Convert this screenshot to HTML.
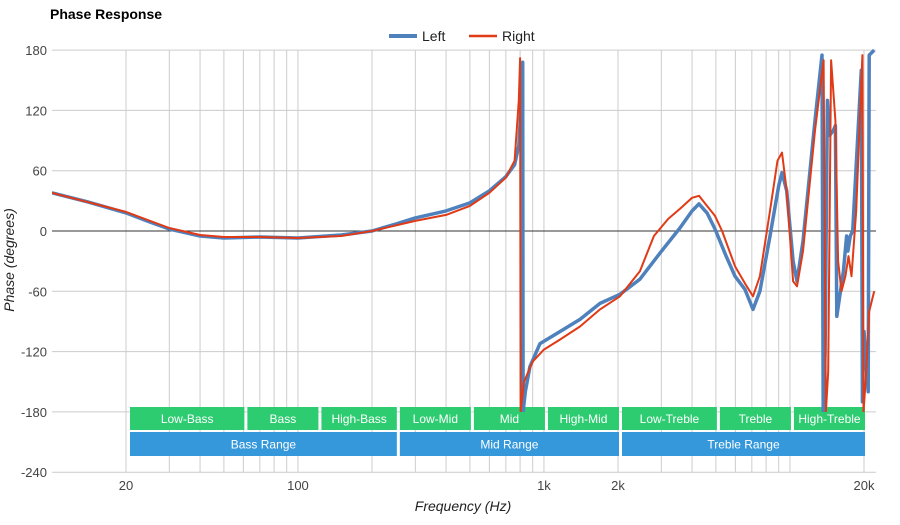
<!DOCTYPE html>
<html><head><meta charset="utf-8"><style>
body{margin:0;background:#fff;font-family:"Liberation Sans",sans-serif;}
svg text{font-family:"Liberation Sans",sans-serif;}
</style></head><body>
<svg id="chart" width="900" height="520">
<text x="50" y="19" font-size="14" font-weight="bold" fill="#000">Phase Response</text>
<g>
<g><line x1="389" y1="36" x2="417" y2="36" stroke="#4f81bd" stroke-width="4"/><text x="422" y="41" font-size="14" fill="#222">Left</text></g>
<g><line x1="469" y1="36" x2="497" y2="36" stroke="#e03a16" stroke-width="2.5"/><text x="502" y="41" font-size="14" fill="#222">Right</text></g>
</g>
<g id="grid"></g>
<g id="bands"></g>
<defs><clipPath id="pc"><rect x="52" y="44" width="826" height="368"/></clipPath></defs>
<g id="series" clip-path="url(#pc)"></g>
<text x="0" y="0" transform="translate(14,260) rotate(-90)" font-size="14" font-style="italic" text-anchor="middle" fill="#222">Phase (degrees)</text>
<text x="463" y="511" font-size="14" font-style="italic" text-anchor="middle" fill="#222">Frequency (Hz)</text>
</svg>
<script>
const yTicks=[180,120,60,0,-60,-120,-180,-240];
const xLabels=[20,100,1000,2000,20000];
const xLabelText=["20","100","1k","2k","20k"];
const leftFreq=[10,14,20,25,30,40,50,70,100,150,200,250,300,400,500,600,700,760,790,810,820,823,840,877,964,1163,1402,1690,2037,2456,2962,3571,4000,4268,4600,4958,5500,5978,6560,7076,7551,8300,9000,9280,9700,10300,10680,11300,12640,13500,13650,13900,14200,14500,15000,15300,15500,16500,17000,17200,17600,18000,19500,19700,20000,20800,21000,22000];
const leftPhase=[38,29,18,9,2,-5,-7,-6,-7,-4,0,7,13,20,28,40,54,66,85,130,168,-180,-160,-135,-112,-100,-88,-72,-63,-48,-22,3,20,27,18,2,-25,-45,-58,-78,-60,-5,45,58,40,-30,-50,-10,110,175,-180,-120,130,95,100,105,-85,-40,-5,-20,-5,0,160,-170,-100,-160,175,180];
const rightFreq=[10,20,30,40,50,70,100,150,200,300,400,500,600,700,760,790,800,804,830,900,1000,1163,1402,1690,2037,2456,2800,3200,3571,4000,4268,4600,4958,5300,5978,6560,7076,7551,8300,8900,9280,9700,10300,10680,11300,12640,13700,14000,14300,14700,15300,15700,16200,16800,17300,17800,18600,19700,19900,20300,21000,22000];
const rightPhase=[38,19,3,-4,-6,-6,-7,-5,0,10,16,25,38,53,70,130,172,-180,-150,-130,-118,-108,-95,-78,-65,-40,-5,12,22,33,35,25,15,0,-35,-52,-65,-45,20,70,78,40,-50,-55,-20,100,170,-180,-140,170,110,-30,-60,-45,-25,-45,20,175,-180,-150,-80,-60];
const bands1=[["Low-Bass",20,60],["Bass",60,120],["High-Bass",120,250],["Low-Mid",250,500],["Mid",500,1000],["High-Mid",1000,2000],["Low-Treble",2000,5000],["Treble",5000,10000],["High-Treble",10000,20000]];
const bands2=[["Bass Range",20,250],["Mid Range",250,2000],["Treble Range",2000,20000]];
const NS="http://www.w3.org/2000/svg";
const X=f=>126+(Math.log10(f)-Math.log10(20))*246;
const Y=d=>231-d*1.005;
function mk(tag,attrs,parent){const e=document.createElementNS(NS,tag);for(const k in attrs)e.setAttribute(k,attrs[k]);parent.appendChild(e);return e;}
const grid=document.getElementById('grid');
for(let dec=10;dec<=10000;dec*=10){for(let m=1;m<=9;m++){const f=dec*m;if(f<20||f>22000)continue;const l=mk('line',{x1:X(f),x2:X(f),y1:50,y2:472,stroke:'#ccc','stroke-width':1},grid);

}}
const l2=mk('line',{x1:X(20000),x2:X(20000),y1:50,y2:472,stroke:'#ccc'},grid);


yTicks.forEach(t=>{const l=mk('line',{x1:52,x2:876,y1:Y(t),y2:Y(t),stroke:t===0?'#333':'#ccc','stroke-width':1},grid);


const tx=mk('text',{x:47,y:Y(t)+5,'font-size':13,'text-anchor':'end',fill:'#444'},grid);tx.textContent=t;

});
xLabels.forEach((f,i)=>{const tx=mk('text',{x:X(f),y:490,'font-size':13,'text-anchor':'middle',fill:'#444'},grid);tx.textContent=xLabelText[i];

});
const bands=document.getElementById('bands');
function band(list,y,h,color,name){list.forEach(b=>{const g=mk('g',{},bands);


const x1=X(b[1])+4,x2=X(b[2])+1;mk('rect',{x:x1,y:y,width:x2-x1,height:h,fill:color},g);
const t=mk('text',{x:(x1+x2)/2,y:y+h/2+4.5,'font-size':12,'text-anchor':'middle',fill:'#fff'},g);t.textContent=b[0];});}
band(bands1,407,23,'#2ecc71','band');
band(bands2,432,24,'#3498db','range');
const series=document.getElementById('series');
function line(fr,ph,color,w,name){const p=mk('polyline',{points:fr.map((f,i)=>X(f).toFixed(1)+','+Y(ph[i]).toFixed(1)).join(' '),fill:'none',stroke:color,'stroke-width':w,'stroke-linejoin':'round'},series);

}
line(leftFreq,leftPhase,'#4f81bd',3.5,'left-series');
line(rightFreq,rightPhase,'#e03a16',2,'right-series');
</script>
</body></html>
